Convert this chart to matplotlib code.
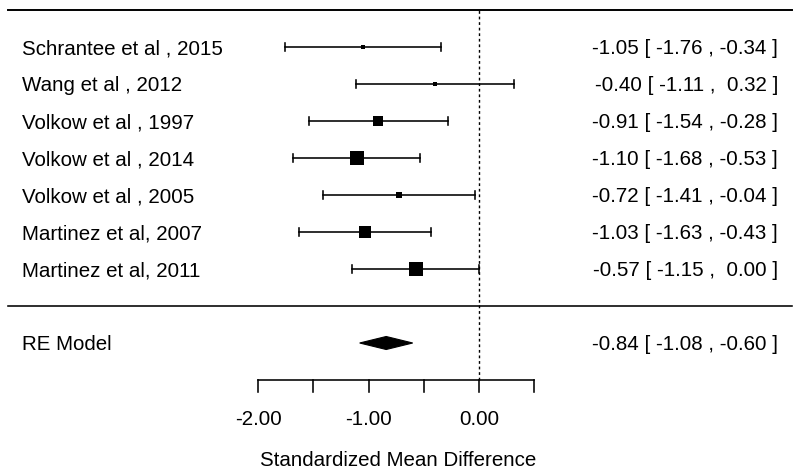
import numpy as np
import matplotlib
matplotlib.use("Agg")
import matplotlib.pyplot as plt

plt.rcParams['font.family'] = ['Liberation Sans', 'DejaVu Sans']

studies = ["Schrantee et al , 2015", "Wang et al , 2012", "Volkow et al , 1997",
           "Volkow et al , 2014", "Volkow et al , 2005", "Martinez et al, 2007",
           "Martinez et al, 2011"]
smd = [-1.05, -0.40, -0.91, -1.10, -0.72, -1.03, -0.57]
ci_lo = [-1.76, -1.11, -1.54, -1.68, -1.41, -1.63, -1.15]
ci_hi = [-0.34, 0.32, -0.28, -0.53, -0.04, -0.43, 0.00]
weights = [4, 5, 9.5, 14.5, 6.5, 11.5, 13.5]  # relative box sizes

re_est, re_lo, re_hi = -0.84, -1.08, -0.60
xticks = [-2.0, -1.5, -1.0, -0.5, 0.0, 0.5]
xticklabels = ["-2.00", "", "-1.00", "", "0.00", ""]

fig = plt.figure(figsize=(8, 4.77), dpi=100)
ax = fig.add_axes([0, 0, 1, 1])
ax.set_xlim(-479 / 110.5, (800 - 479) / 110.5)
ax.set_ylim(-96 / 37, 381 / 37)
ax.axis('off')

px = 1 / 110.5  # one pixel in x units
py = 1 / 37     # one pixel in y units
fs = 14.8
lw = 1.15

rows = np.arange(len(studies))[::-1] + 3
x_label = -479 * px + 22 * px
x_right = -479 * px + 778 * px

# top and separator lines
ax.plot([-471 * px, 313 * px], [10, 10], color='black', lw=1.4)
ax.plot([-471 * px, 313 * px], [2, 2], color='black', lw=lw)
# reference line at 0
ax.plot([0, 0], [0, 10], color='black', lw=1.0, ls=(0, (2, 2)))

for y, name, m, lo, hi, w in zip(rows, studies, smd, ci_lo, ci_hi, weights):
    ax.plot([lo, hi], [y, y], color='black', lw=lw)
    for e in (lo, hi):
        ax.plot([e, e], [y - 4 * py, y + 4 * py], color='black', lw=lw)
    ax.plot([m], [y], marker='s', ms=w * 0.72, color='black', mec='black', mew=0)
    ax.text(x_label, y - 1 * py, name, ha='left', va='center', fontsize=fs)
    ax.text(x_right, y - 1 * py, f"{m:.2f} [ {lo:5.2f} , {hi:5.2f} ]",
            ha='right', va='center', fontsize=fs)

# summary diamond
h = 6.5 * py
ax.fill([re_lo, re_est, re_hi, re_est], [1, 1 + h, 1, 1 - h], color='black', lw=0.8)
ax.text(x_label, 1 - 1 * py, "RE Model", ha='left', va='center', fontsize=fs)
ax.text(x_right, 1 - 1 * py, f"{re_est:.2f} [ {re_lo:5.2f} , {re_hi:5.2f} ]",
        ha='right', va='center', fontsize=fs)

# x axis
ax.plot([xticks[0], xticks[-1]], [0, 0], color='black', lw=lw)
for t, lab in zip(xticks, xticklabels):
    ax.plot([t, t], [0, -12 * py], color='black', lw=lw)
    if lab:
        ax.text(t, -39 * py, lab, ha='center', va='center', fontsize=fs)
ax.text(np.mean([xticks[0], xticks[-1]]) + 2 * px, -80 * py, "Standardized Mean Difference",
        ha='center', va='center', fontsize=fs)

fig.savefig("out.png", dpi=100)
